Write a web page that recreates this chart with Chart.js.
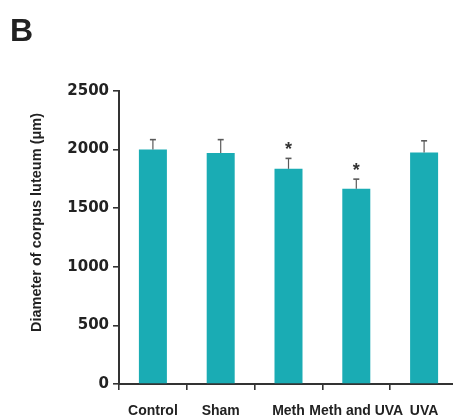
<!DOCTYPE html>
<html>
<head>
<meta charset="utf-8">
<script src="https://cdn.jsdelivr.net/npm/chart.js@4/dist/chart.umd.min.js"></script>
<style>
  html, body { margin: 0; padding: 0; background: #fff; overflow: hidden; }
  #wrap { width: 462px; height: 416px; }
</style>
</head>
<body>
<div id="wrap"><canvas id="c" width="462" height="416"></canvas></div>
<script>
// Groups, mean diameter and upper error (µm)
const groups = ['Control', 'Sham', 'Meth', 'Meth and UVA', 'UVA'];
const diameters = [2000, 1972, 1836, 1665, 1976];
const errors = [85, 113, 89, 83, 99];
const significant = [false, false, true, true, false];
const yTicks = [0, 500, 1000, 1500, 2000, 2500];

const panelLetter = 'B';
const yTitle = 'Diameter of corpus luteum (\u03bcm)';

const ink = '#222222';
const axisColor = '#333333';
const barColor = '#1aacb4';

// Error bars, significance stars, panel letter and rotated axis title
const annotations = {
  id: 'annotations',
  afterDatasetsDraw(chart) {
    const ctx = chart.ctx;
    const y = chart.scales.y;
    const meta = chart.getDatasetMeta(0);
    ctx.save();
    meta.data.forEach((bar, i) => {
      const top = y.getPixelForValue(diameters[i]);
      const eTop = y.getPixelForValue(diameters[i] + errors[i]);
      ctx.strokeStyle = '#5a5a5a';
      ctx.lineWidth = 1.2;
      ctx.beginPath();
      ctx.moveTo(bar.x, top);
      ctx.lineTo(bar.x, eTop);
      ctx.stroke();
      ctx.lineWidth = 1.6;
      ctx.beginPath();
      ctx.moveTo(bar.x - 3, eTop);
      ctx.lineTo(bar.x + 3, eTop);
      ctx.stroke();
      if (significant[i]) {
        ctx.fillStyle = '#333';
        ctx.font = 'bold 18px "Liberation Sans", Arial, sans-serif';
        ctx.textAlign = 'center';
        ctx.textBaseline = 'alphabetic';
        ctx.fillText('*', bar.x, eTop - 14 + 10.5);
      }
    });
    ctx.restore();
  },
  afterDraw(chart) {
    const ctx = chart.ctx;
    const area = chart.chartArea;
    ctx.save();
    ctx.fillStyle = ink;
    ctx.font = 'bold 32px "Liberation Sans", Arial, sans-serif';
    ctx.textAlign = 'left';
    ctx.textBaseline = 'alphabetic';
    ctx.fillText(panelLetter, 10, 41);

    ctx.translate(37, (area.top + area.bottom) / 2 - 15);
    ctx.rotate(-Math.PI / 2);
    ctx.font = 'bold 14.5px "Liberation Sans", Arial, sans-serif';
    ctx.textAlign = 'center';
    ctx.textBaseline = 'middle';
    ctx.fillText(yTitle, 0, 0);
    ctx.restore();
  }
};

new Chart(document.getElementById('c'), {
  type: 'bar',
  data: {
    labels: groups,
    datasets: [{
      data: diameters,
      backgroundColor: barColor,
      borderWidth: 0,
      barPercentage: 0.413,
      categoryPercentage: 1
    }]
  },
  options: {
    responsive: false,
    animation: false,
    events: [],
    layout: { padding: { top: 91, right: 4, left: 0, bottom: 0 } },
    plugins: { legend: { display: false }, tooltip: { enabled: false } },
    scales: {
      x: {
        offset: true,
        grid: {
          offset: true,
          drawOnChartArea: false,
          drawTicks: true,
          tickLength: 6,
          color: axisColor,
          lineWidth: 1.6
        },
        border: { display: true, color: axisColor, width: 2 },
        ticks: {
          color: ink,
          padding: 13,
          maxRotation: 0,
          autoSkip: false,
          font: { family: '"Liberation Sans", Arial, sans-serif', size: 14, weight: 'bold' }
        },
        afterFit(scale) { scale.height = 32; }
      },
      y: {
        min: 0,
        max: 2500,
        afterBuildTicks(scale) { scale.ticks = yTicks.map(v => ({ value: v })); },
        grid: {
          drawOnChartArea: false,
          drawTicks: true,
          tickLength: 6,
          color: axisColor,
          lineWidth: 1.6
        },
        border: { display: true, color: axisColor, width: 2 },
        ticks: {
          color: ink,
          padding: 4,
          callback: (v) => String(v),
          font: { family: '"DejaVu Sans", sans-serif', size: 15, weight: 'bold' }
        },
        afterFit(scale) { scale.width = 119; }
      }
    }
  },
  plugins: [annotations]
});
</script>
</body>
</html>
